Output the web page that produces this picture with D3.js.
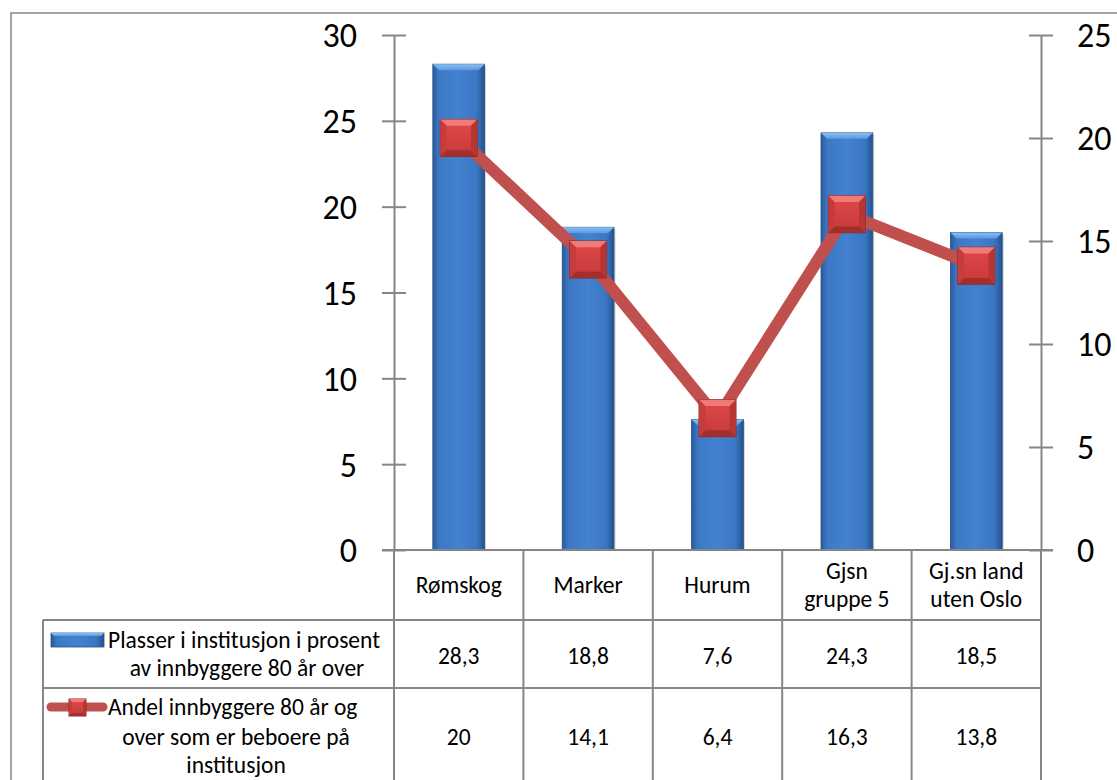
<!DOCTYPE html>
<html>
<head>
<meta charset="utf-8">
<script src="https://cdn.jsdelivr.net/npm/d3@7"></script>
<style>
  html, body { margin: 0; padding: 0; background: #fff; }
  svg { display: block; }
  text { font-family: Carlito, Calibri, Lato, "Open Sans", sans-serif; fill: #000; }
</style>
</head>
<body>
<svg id="chart" width="1117" height="780"></svg>
<script>
// Categories (table columns) and the two series
const categories = ["Rømskog", "Marker", "Hurum", "Gjsn gruppe 5", "Gj.sn land uten Oslo"];
const categoryLines = [["Rømskog"], ["Marker"], ["Hurum"], ["Gjsn", "gruppe 5"], ["Gj.sn land", "uten Oslo"]];
const plasser = [28.3, 18.8, 7.6, 24.3, 18.5];
const andel = [20, 14.1, 6.4, 16.3, 13.8];
const seriesNames = [
  ["Plasser i institusjon i prosent", "av innbyggere 80 år over"],
  ["Andel innbyggere 80 år og", "over som er beboere på", "institusjon"]
];
const leftTicks = [0, 5, 10, 15, 20, 25, 30];
const rightTicks = [0, 5, 10, 15, 20, 25];

const svg = d3.select("#chart");
const defs = svg.append("defs");

// Plot geometry
const plot = { left: 394, right: 1041, top: 35, bottom: 550 };
const gridColor = "#868686";
const axisFont = 34;
const tableFont = 23.5;

const x = d3.scaleBand().domain(categories).range([plot.left, plot.right]).padding(0);
const yL = d3.scaleLinear().domain([0, 30]).range([plot.bottom, plot.top]);
const yR = d3.scaleLinear().domain([0, 25]).range([plot.bottom, plot.top]);
const fmt = v => String(v).replace(".", ",");

// Gradients for the bevelled bars and markers
const barGrad = defs.append("linearGradient").attr("id", "barGrad").attr("x1", 0).attr("x2", 1).attr("y1", 0).attr("y2", 0);
[[0, "#2a5a98"], [0.12, "#3c78c6"], [0.5, "#4282d0"], [0.85, "#3b76c2"], [1, "#24528c"]]
  .forEach(([o, c]) => barGrad.append("stop").attr("offset", o).attr("stop-color", c));
const barTop = defs.append("linearGradient").attr("id", "barTop").attr("x1", 0).attr("x2", 0).attr("y1", 0).attr("y2", 1);
[[0, "#8cc0f4"], [1, "#5a98e0"]].forEach(([o, c]) => barTop.append("stop").attr("offset", o).attr("stop-color", c));
const mkGrad = defs.append("linearGradient").attr("id", "mkGrad").attr("x1", 0).attr("x2", 0).attr("y1", 0).attr("y2", 1);
[[0, "#e04a48"], [1, "#c8383a"]].forEach(([o, c]) => mkGrad.append("stop").attr("offset", o).attr("stop-color", c));

// Outer chart border
svg.append("rect").attr("x", 11).attr("y", 13).attr("width", 1120).attr("height", 800)
  .attr("fill", "none").attr("stroke", gridColor).attr("stroke-width", 1.5);

function styleAxis(ax) {
  ax.select(".domain").attr("stroke", gridColor).attr("stroke-width", 2);
  ax.selectAll(".tick line").attr("x1", -12).attr("x2", 12).attr("stroke", gridColor).attr("stroke-width", 2);
  ax.selectAll(".tick text").attr("font-size", axisFont).attr("dy", "0.35em")
    .style("font-family", "Carlito, Calibri, Lato, 'Open Sans', sans-serif").attr("fill", "#000");
}

// Left axis
const axL = svg.append("g").attr("transform", `translate(${plot.left},0)`)
  .call(d3.axisLeft(yL).tickValues(leftTicks).tickSize(0).tickSizeOuter(0).tickPadding(37));
styleAxis(axL);

// Right axis
const axR = svg.append("g").attr("transform", `translate(${plot.right},0)`)
  .call(d3.axisRight(yR).tickValues(rightTicks).tickSize(0).tickSizeOuter(0).tickPadding(36));
styleAxis(axR);

// Bars
const barW = x.bandwidth() * 0.4;
const bars = svg.append("g").selectAll("g").data(categories).join("g")
  .attr("transform", (d, i) => `translate(${x(d) + x.bandwidth() / 2 - barW / 2},${yL(plasser[i])})`);
bars.append("rect").attr("x", 1.5).attr("y", 2).attr("width", barW).attr("height", (d, i) => plot.bottom - yL(plasser[i]) - 2)
  .attr("fill", "#000").attr("opacity", 0.18);
bars.append("rect").attr("width", barW).attr("height", (d, i) => plot.bottom - yL(plasser[i]))
  .attr("fill", "url(#barGrad)").attr("stroke", "#244f88").attr("stroke-width", 0.8);
bars.append("path").attr("d", `M0,0H${barW}L${barW - 6},6H6Z`).attr("fill", "url(#barTop)");

// Line series on the right axis
const pts = categories.map((d, i) => [x(d) + x.bandwidth() / 2, yR(andel[i])]);
svg.append("path").attr("d", d3.line()(pts)).attr("fill", "none")
  .attr("stroke", "#c0504d").attr("stroke-width", 12).attr("stroke-linejoin", "round");

// Bevelled square marker
function marker(g, s) {
  const h = s / 2, b = s * 0.17;
  g.append("rect").attr("x", -h).attr("y", -h).attr("width", s).attr("height", s)
    .attr("fill", "url(#mkGrad)").attr("stroke", "#8a2b29").attr("stroke-width", 1);
  g.append("path").attr("d", `M${-h},${-h}H${h}L${h - b},${-h + b}H${-h + b}Z`).attr("fill", "#f27a76");
  g.append("path").attr("d", `M${-h},${h}H${h}L${h - b},${h - b}H${-h + b}Z`).attr("fill", "#a22f2e");
  g.append("path").attr("d", `M${-h},${-h}L${-h + b},${-h + b}V${h - b}L${-h},${h}Z`).attr("fill", "#c43c3b");
  g.append("path").attr("d", `M${h},${-h}L${h - b},${-h + b}V${h - b}L${h},${h}Z`).attr("fill", "#b53634");
}
svg.append("g").selectAll("g").data(pts).join("g")
  .attr("transform", d => `translate(${d[0]},${d[1]})`)
  .each(function () { marker(d3.select(this), 37); });

// Data table
const rows = { cat: [plot.bottom, 620], r1: [620, 688], r2: [688, 800] };
const legendLeft = 43;
const table = svg.append("g").attr("stroke", gridColor).attr("stroke-width", 2);
table.append("line").attr("x1", plot.left - 12).attr("x2", plot.right + 12).attr("y1", plot.bottom).attr("y2", plot.bottom);
table.append("line").attr("x1", legendLeft).attr("x2", plot.right).attr("y1", rows.r1[0]).attr("y2", rows.r1[0]);
table.append("line").attr("x1", legendLeft).attr("x2", plot.right).attr("y1", rows.r2[0]).attr("y2", rows.r2[0]);
table.append("line").attr("x1", legendLeft).attr("x2", legendLeft).attr("y1", rows.r1[0]).attr("y2", 800);
const colEdges = categories.map(d => x(d)).concat([plot.right]);
table.selectAll("line.col").data(colEdges).join("line").attr("class", "col")
  .attr("x1", d => d).attr("x2", d => d).attr("y1", plot.bottom).attr("y2", 800);

// Category labels
const catG = svg.append("g").attr("font-size", tableFont).attr("text-anchor", "middle");
categoryLines.forEach((lines, i) => {
  const cx = x(categories[i]) + x.bandwidth() / 2;
  const mid = (rows.cat[0] + rows.cat[1]) / 2;
  lines.forEach((t, j) => {
    catG.append("text").attr("x", cx).attr("y", mid + (j - (lines.length - 1) / 2) * 28).attr("dy", "0.35em").text(t);
  });
});
// Values
const valG = svg.append("g").attr("font-size", tableFont).attr("text-anchor", "middle");
plasser.forEach((v, i) => valG.append("text").attr("x", x(categories[i]) + x.bandwidth() / 2)
  .attr("y", 656).attr("dy", "0.35em").text(fmt(v)));
andel.forEach((v, i) => valG.append("text").attr("x", x(categories[i]) + x.bandwidth() / 2)
  .attr("y", 737).attr("dy", "0.35em").text(fmt(v)));

// Legend cells
const legG = svg.append("g").attr("font-size", tableFont);
const k1 = legG.append("g").attr("transform", "translate(51,633)");
k1.append("rect").attr("width", 53).attr("height", 14).attr("fill", "url(#barGrad)").attr("stroke", "#244f88").attr("stroke-width", 0.8);
k1.append("path").attr("d", "M0,0H53L50,3H3Z").attr("fill", "url(#barTop)");
legG.append("text").attr("x", 108).attr("y", 640).attr("dy", "0.35em").text(seriesNames[0][0]);
legG.append("text").attr("x", 247).attr("y", 668).attr("dy", "0.35em").attr("text-anchor", "middle").text(seriesNames[0][1]);
legG.append("line").attr("x1", 51).attr("x2", 103).attr("y1", 707).attr("y2", 707)
  .attr("stroke", "#c0504d").attr("stroke-width", 9).attr("stroke-linecap", "round");
const k2 = legG.append("g").attr("transform", "translate(77.5,707.5)");
marker(k2, 17);
legG.append("text").attr("x", 108).attr("y", 707).attr("dy", "0.35em").text(seriesNames[1][0]);
legG.append("text").attr("x", 236).attr("y", 737).attr("dy", "0.35em").attr("text-anchor", "middle").text(seriesNames[1][1]);
legG.append("text").attr("x", 236).attr("y", 765).attr("dy", "0.35em").attr("text-anchor", "middle").text(seriesNames[1][2]);
</script>
</body>
</html>
